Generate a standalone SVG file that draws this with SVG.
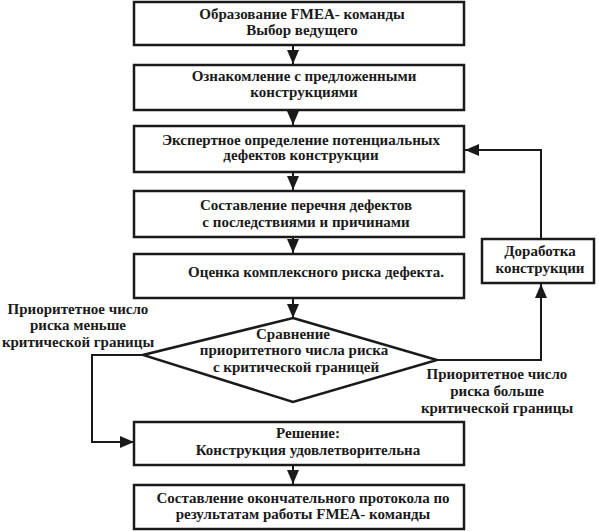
<svg xmlns="http://www.w3.org/2000/svg" width="599" height="531" viewBox="0 0 599 531">
<style>
.box{fill:#fff;stroke:#1a1a1a;stroke-width:2.5}
.t{font-family:"Liberation Serif","Times New Roman",serif;font-weight:bold;font-size:15px;fill:#1a1a1a;text-anchor:middle}
.c{fill:none;stroke:#1a1a1a;stroke-width:2}
</style>
<defs>
<marker id="ah" markerUnits="userSpaceOnUse" markerWidth="14" markerHeight="12" viewBox="0 0 14 12" refX="14" refY="6" orient="auto">
<path d="M0,0 L14,6 L0,12 Z" fill="#1a1a1a"/>
</marker>
</defs>
<rect width="599" height="531" fill="#fff"/>
<g id="connectors">
<line class="c" x1="293" y1="45" x2="293" y2="64" marker-end="url(#ah)"/>
<line class="c" x1="293" y1="110" x2="293" y2="125" marker-end="url(#ah)"/>
<line class="c" x1="293" y1="172" x2="293" y2="190" marker-end="url(#ah)"/>
<line class="c" x1="293" y1="237" x2="293" y2="253" marker-end="url(#ah)"/>
<line class="c" x1="293" y1="298" x2="293" y2="318" marker-end="url(#ah)"/>
<polyline class="c" points="143,355 92,355 92,442 134,442" marker-end="url(#ah)"/>
<polyline class="c" points="437,360 541,360 541,284" marker-end="url(#ah)"/>
<polyline class="c" points="541,239 541,150 465,150" marker-end="url(#ah)"/>
<line class="c" x1="293" y1="465" x2="293" y2="484" marker-end="url(#ah)"/>
</g>
<g id="n1"><rect class="box" x="134" y="2" width="330" height="43"/>
<text class="t" x="302" y="19">Образование FMEA- команды</text>
<text class="t" x="302" y="35">Выбор ведущего</text></g>
<g id="n2"><rect class="box" x="134" y="65" width="330" height="45"/>
<text class="t" x="304" y="81">Ознакомление с предложенными</text>
<text class="t" x="304" y="97">конструкциями</text></g>
<g id="n3"><rect class="box" x="134" y="126" width="330" height="46"/>
<text class="t" x="301" y="145">Экспертное определение потенциальных</text>
<text class="t" x="301" y="160">дефектов конструкции</text></g>
<g id="n4"><rect class="box" x="134" y="191" width="330" height="46"/>
<text class="t" x="306" y="210">Составление перечня дефектов</text>
<text class="t" x="306" y="227">с последствиями и причинами</text></g>
<g id="n5"><rect class="box" x="134" y="254" width="330" height="44"/>
<text class="t" x="316" y="277">Оценка комплексного риска дефекта.</text></g>
<g id="n6"><polygon class="box" points="293,318 437,360 293,402 143,355"/>
<text class="t" x="293" y="339">Сравнение</text>
<text class="t" x="294" y="355">приоритетного числа риска</text>
<text class="t" x="296" y="372">с критической границей</text></g>
<g id="n7"><rect class="box" x="482" y="239" width="112" height="44"/>
<text class="t" x="540" y="256">Доработка</text>
<text class="t" x="540" y="273">конструкции</text></g>
<g id="n8"><rect class="box" x="134" y="422" width="330" height="43"/>
<text class="t" x="308" y="438">Решение:</text>
<text class="t" x="308" y="455">Конструкция удовлетворительна</text></g>
<g id="n9"><rect class="box" x="134" y="485" width="330" height="44"/>
<text class="t" x="303" y="503">Составление окончательного протокола по</text>
<text class="t" x="303" y="519">результатам работы FMEA- команды</text></g>
<g id="lbl-left">
<text class="t" x="78" y="314">Приоритетное число</text>
<text class="t" x="78" y="330">риска меньше</text>
<text class="t" x="78" y="347">критической границы</text></g>
<g id="lbl-right">
<text class="t" x="497" y="379">Приоритетное число</text>
<text class="t" x="497" y="396">риска больше</text>
<text class="t" x="497" y="413">критической границы</text></g>
</svg>
